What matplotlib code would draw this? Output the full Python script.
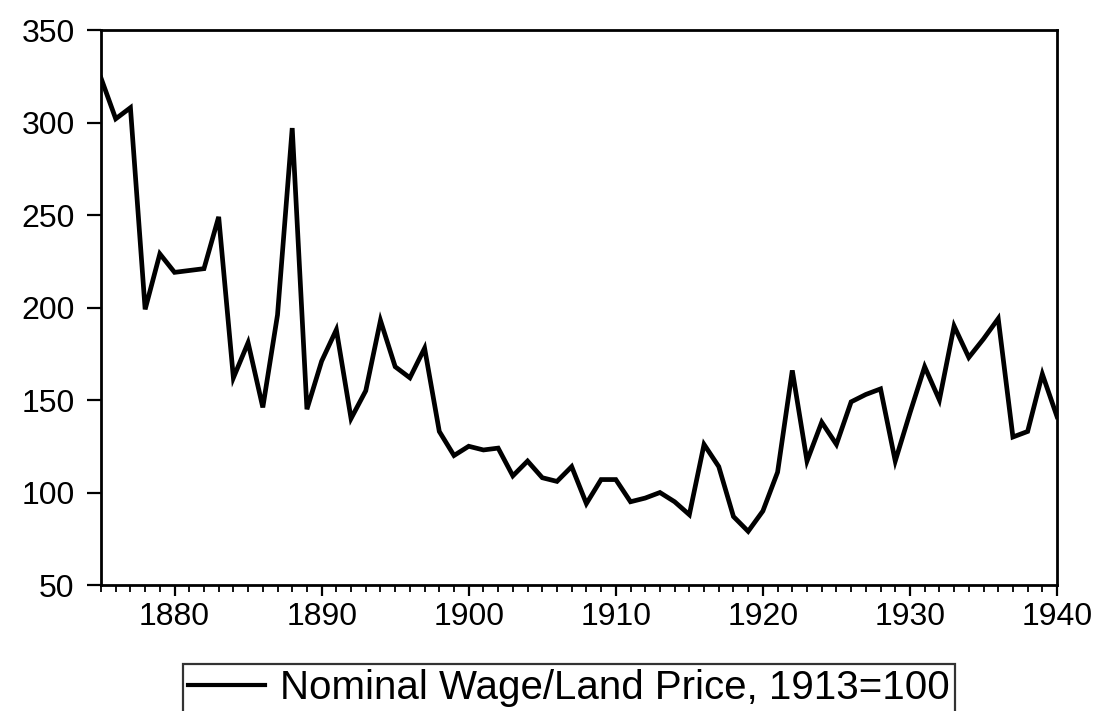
import matplotlib.pyplot as plt
from matplotlib.ticker import MultipleLocator

plt.rcParams['font.family'] = ['Liberation Sans', 'DejaVu Sans']

years = list(range(1875, 1941))
ratio = [324, 302, 308, 199, 229, 219, 220, 221, 249, 162,
         181, 146, 196, 297, 145, 171, 188, 140, 155, 193,
         168, 162, 178, 133, 120, 125, 123, 124, 109, 117,
         108, 106, 114, 94, 107, 107, 95, 97, 100, 95,
         88, 126, 114, 87, 79, 90, 111, 166, 117, 138,
         126, 149, 153, 156, 117, 143, 168, 150, 190, 173,
         183, 194, 130, 133, 164, 141]

fig = plt.figure(figsize=(10.98, 7.11), dpi=100)
ax = fig.add_axes([0.092, 0.1772, 0.8707, 0.7806])

line, = ax.plot(years, ratio, color='black', linewidth=3.4,
                solid_joinstyle='miter', label='Nominal Wage/Land Price, 1913=100')

ax.set_xlim(1875, 1940)
ax.set_ylim(50, 350)
ax.set_yticks([50, 100, 150, 200, 250, 300, 350])
ax.set_xticks([1880, 1890, 1900, 1910, 1920, 1930, 1940])
ax.xaxis.set_minor_locator(MultipleLocator(1))

for s in ax.spines.values():
    s.set_linewidth(2.0)

ax.tick_params(axis='both', labelsize=23, width=1.6, colors='black')
ax.tick_params(axis='x', which='major', length=8, pad=4)
ax.tick_params(axis='x', which='minor', length=5, width=1.3)
ax.tick_params(axis='y', length=10, pad=9)

leg = fig.legend(handles=[line], loc='upper left', bbox_to_anchor=(0.1667, 0.066),
                 borderaxespad=0, fontsize=29, frameon=True, fancybox=False,
                 edgecolor='black', handlelength=1.9, borderpad=0.13,
                 handletextpad=0.37)
leg.get_frame().set_linewidth(1.6)
leg.legend_handles[0].set_linewidth(3.0)

fig.savefig('out.png', dpi=100)
